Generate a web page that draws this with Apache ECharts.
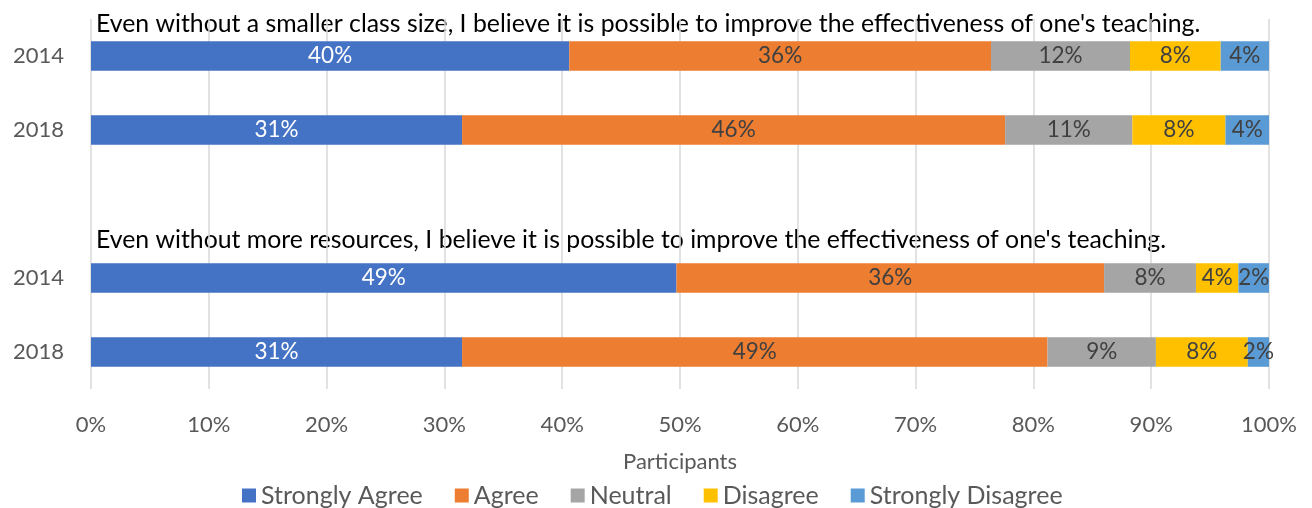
<!DOCTYPE html>
<html><head><meta charset="utf-8">
<script src="https://cdn.jsdelivr.net/npm/echarts@6/dist/echarts.min.js"></script>
<style>html,body{margin:0;padding:0;background:#fff}#c{width:1312px;height:508px}</style>
</head><body><div id="c"></div>
<script>
const categories = ['2014', '2018', '', '2014', '2018'];
const questions = [
  "Even without a smaller class size, I believe it is possible to improve the effectiveness of one's teaching.",
  "Even without more resources, I believe it is possible to improve the effectiveness of one's teaching."
];
const seriesNames = ['Strongly Agree', 'Agree', 'Neutral', 'Disagree', 'Strongly Disagree'];
const stronglyAgree = [40.6, 31.5, null, 49.7, 31.5];
const agree = [35.8, 46.1, null, 36.3, 49.7];
const neutral = [11.8, 10.8, null, 7.8, 9.2];
const disagree = [7.7, 7.9, null, 3.6, 7.8];
const stronglyDisagree = [4.1, 3.7, null, 2.6, 1.8];
const stronglyAgreeLabels = [40, 31, null, 49, 31];
const agreeLabels = [36, 46, null, 36, 49];
const neutralLabels = [12, 11, null, 8, 9];
const disagreeLabels = [8, 8, null, 4, 8];
const stronglyDisagreeLabels = [4, 4, null, 2, 2];
const xTicks = [0, 10, 20, 30, 40, 50, 60, 70, 80, 90, 100];
const xAxisName = 'Participants';

const FONT = 'Lato';
const valuesList = [stronglyAgree, agree, neutral, disagree, stronglyDisagree];
const labelsList = [stronglyAgreeLabels, agreeLabels, neutralLabels, disagreeLabels, stronglyDisagreeLabels];
const colors = ['#4472C4', '#ED7D31', '#A5A5A5', '#FFC000', '#5B9BD5'];
const labelColors = ['#FFFFFF', '#404040', '#404040', '#404040', '#404040'];

const chart = echarts.init(document.getElementById('c'), null, {renderer: 'canvas'});
chart.setOption({
  animation: false,
  textStyle: {fontFamily: FONT},
  grid: {left: 91, right: 43, top: 19, bottom: 119, containLabel: false},
  legend: {
    data: seriesNames, left: 237, top: 478, icon: 'rect', itemWidth: 14, itemHeight: 14,
    itemGap: 32, textStyle: {fontFamily: FONT, fontSize: 25, color: '#595959'}
  },
  xAxis: {
    type: 'value', min: xTicks[0], max: xTicks[xTicks.length - 1], interval: xTicks[1] - xTicks[0],
    name: xAxisName, nameLocation: 'middle', nameGap: 62,
    nameTextStyle: {fontFamily: FONT, fontSize: 22, color: '#595959'},
    axisLine: {show: false}, axisTick: {show: false},
    axisLabel: {formatter: '{value}%', margin: 25, fontFamily: FONT, fontSize: 22, color: '#595959'},
    splitLine: {show: true, lineStyle: {color: '#D9D9D9', width: 1.5}}
  },
  yAxis: {
    type: 'category', inverse: true, data: categories.map((c, i) => c + '#' + i),
    axisLine: {show: false}, axisTick: {show: false},
    axisLabel: {formatter: (v, i) => categories[i], margin: 27, fontFamily: FONT, fontSize: 22, color: '#595959'}
  },
  graphic: questions.map((q, i) => ({
    type: 'text', left: 96, top: i === 0 ? 11.5 : 227.5,
    style: {text: q, fontFamily: FONT, fontSize: 24.8, fill: '#000000'}
  })),
  series: seriesNames.map((name, si) => ({
    name, type: 'bar', stack: 'total', barWidth: '40%',
    itemStyle: {color: colors[si]},
    label: {
      show: true, position: 'inside', fontFamily: FONT, fontSize: 22.5, color: labelColors[si],
      formatter: p => labelsList[si][p.dataIndex] == null ? '' : labelsList[si][p.dataIndex] + '%'
    },
    data: valuesList[si]
  }))
});
</script></body></html>
